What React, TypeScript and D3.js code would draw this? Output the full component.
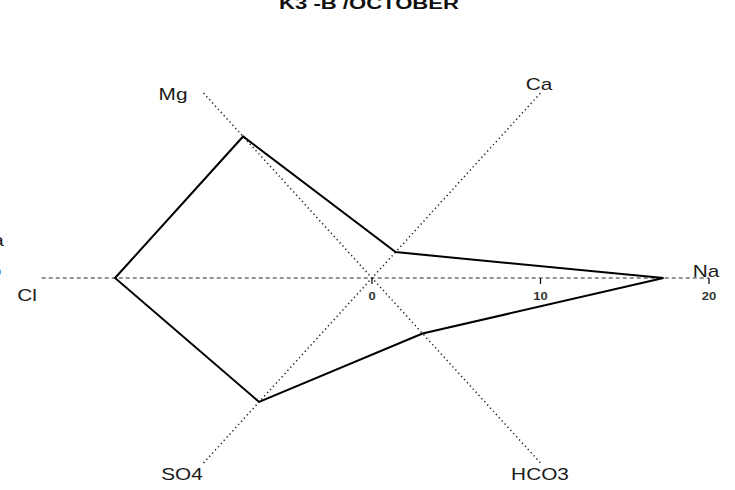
import React, { useEffect, useRef } from 'react'
import * as d3 from 'd3'

// ion axes, going round the polygon
const ionNames = ["Na", "Ca", "Mg", "Cl", "SO4", "HCO3"];
const ionValues = [17.3, 1.4, 7.65, 15.25, 6.7, 3.0];
const ionDirs = [[1, 0], [1, 1], [-1, 1], [-1, 0], [-1, -1], [1, -1]];
const tickValues = [0, 10, 20];
const title = "K3 -B /OCTOBER";

const W = 735;
const H = 490;

export default function App() {
  const ref = useRef<SVGSVGElement>(null);

  useEffect(() => {
    const svg = d3.select(ref.current);
    svg.selectAll("*").remove();

    const x = d3.scaleLinear().domain([0, 20]).range([372, 709]);
    const y = d3.scaleLinear().domain([0, 10]).range([278, 93]);
    const font = "'Liberation Sans', Arial, sans-serif";
    const stretch = 1.3;

    const label = (tx: number, ty: number, txt: string, size: number, weight = "normal", fill = "#1a1a1a") => {
      svg.append("g")
        .attr("transform", "translate(" + tx + "," + ty + ") scale(" + stretch + ",1)")
        .append("text")
        .attr("text-anchor", "middle")
        .attr("font-family", font)
        .attr("font-size", size)
        .attr("font-weight", weight)
        .attr("fill", fill)
        .text(txt);
    };

    // horizontal axis (dashed)
    svg.append("line")
      .attr("x1", x(-19.6)).attr("x2", x(20))
      .attr("y1", y(0)).attr("y2", y(0))
      .attr("stroke", "#2a2a2a").attr("stroke-width", 1.1)
      .attr("stroke-dasharray", "4 3");

    // diagonal axes (dotted)
    svg.append("line")
      .attr("x1", x(-10)).attr("y1", y(10))
      .attr("x2", x(10)).attr("y2", y(-10))
      .attr("stroke", "#222").attr("stroke-width", 1.5)
      .attr("stroke-dasharray", "1.3 3");
    svg.append("line")
      .attr("x1", x(-10)).attr("y1", y(-10))
      .attr("x2", x(10)).attr("y2", y(10))
      .attr("stroke", "#222").attr("stroke-width", 1.5)
      .attr("stroke-dasharray", "1.3 3");

    // ticks
    svg.selectAll(".tick")
      .data(tickValues)
      .enter()
      .append("line")
      .attr("x1", d => x(d)).attr("x2", d => x(d))
      .attr("y1", y(0)).attr("y2", y(0) + 6)
      .attr("stroke", "#111").attr("stroke-width", 1.3);
    tickValues.forEach(d => label(x(d), 300, String(d), 10, "bold", "#333"));

    // polygon
    const pts: [number, number][] = ionValues.map((v, i) => [x(v * ionDirs[i][0]), y(v * ionDirs[i][1])]);
    svg.append("path")
      .attr("d", d3.line().curve(d3.curveLinearClosed)(pts))
      .attr("fill", "none")
      .attr("stroke", "#000")
      .attr("stroke-width", 2)
      .attr("stroke-linejoin", "miter");

    // axis labels
    label(173, 100, "Mg", 16);
    label(539, 90, "Ca", 16);
    label(706, 277, "Na", 16);
    label(27, 301, "Cl", 16);
    label(182, 480, "SO4", 16);
    label(540, 480, "HCO3", 16);

    // title, clipped at top as in the source
    label(369, 9, title, 17, "bold", "#111");

    // bits of the neighbouring panel at the left edge
    label(-2, 246, "a", 16);
    svg.append("circle")
      .attr("cx", -3).attr("cy", 272).attr("r", 4)
      .attr("fill", "#3aa0e8");
  }, []);

  return (
    <svg ref={ref} width={W} height={H}
      style={{ position: "absolute", left: 0, top: 0, background: "#fff" }} />
  );
}
